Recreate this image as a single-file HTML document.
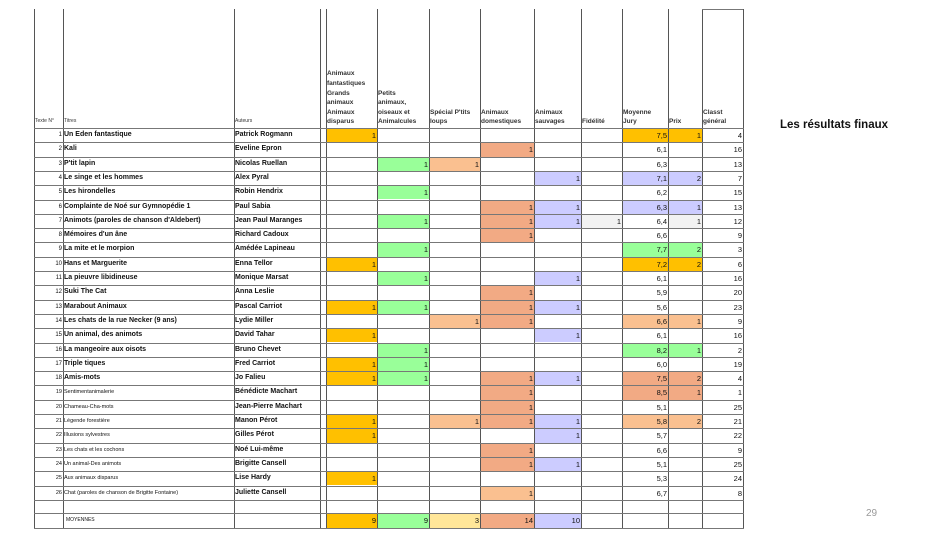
<!DOCTYPE html>
<html><head><meta charset="utf-8"><style>
html,body{margin:0;padding:0;background:#fff;}
#root{position:relative;width:950px;height:534px;overflow:hidden;font-family:"Liberation Sans",sans-serif;color:#111;}
.c{position:absolute;box-sizing:border-box;overflow:hidden;white-space:nowrap;font-size:7px;line-height:14px;}
.v{position:absolute;background:#555;width:1px;}
.h{position:absolute;background:#777;height:1px;}
.hd{position:absolute;font-size:6.5px;font-weight:bold;line-height:9.6px;white-space:pre-line;color:#333;}
</style></head><body>
<div id="root">
<div style="position:absolute;left:780px;top:119px;font-size:11.5px;font-weight:bold;color:#111;">Les résultats finaux</div>
<div style="position:absolute;left:866px;top:508px;font-size:10px;color:#999;">29</div>
</div>
<script>
const titles=["Un Eden fantastique","Kali","P'tit lapin","Le singe et les hommes","Les hirondelles","Complainte de Noé sur Gymnopédie 1","Animots (paroles de chanson d'Aldebert)","Mémoires d'un âne","La mite et le morpion","Hans et Marguerite","La pieuvre libidineuse","Suki The Cat","Marabout Animaux","Les chats de la rue Necker (9 ans)","Un animal, des animots","La mangeoire aux oisots","Triple tiques","Amis-mots","Sentimentanimalerie","Chameau-Cha-mots","Légende forestière","Illusions sylvestres","Les chats et les cochons","Un animal-Des animots","Aux animaux  disparus","Chat (paroles de chanson de Brigitte Fontaine)"];
const authors=["Patrick Rogmann","Eveline Epron","Nicolas Ruellan","Alex Pyral","Robin Hendrix","Paul Sabia","Jean Paul Maranges","Richard Cadoux","Amédée Lapineau","Enna Tellor","Monique Marsat","Anna Leslie","Pascal Carriot","Lydie Miller","David Tahar","Bruno Chevet","Fred Carriot","Jo Falieu","Bénédicte Machart","Jean-Pierre Machart","Manon Pérot","Gilles Pérot","Noé Lui-même","Brigitte Cansell","Lise Hardy","Juliette Cansell"];
const cats=[[1,0,0,0,0,0],[0,0,0,1,0,0],[0,1,1,0,0,0],[0,0,0,0,1,0],[0,1,0,0,0,0],[0,0,0,1,1,0],[0,1,0,1,1,1],[0,0,0,1,0,0],[0,1,0,0,0,0],[1,0,0,0,0,0],[0,1,0,0,1,0],[0,0,0,1,0,0],[1,1,0,1,1,0],[0,0,1,1,0,0],[1,0,0,0,1,0],[0,1,0,0,0,0],[1,1,0,0,0,0],[1,1,0,1,1,0],[0,0,0,1,0,0],[0,0,0,1,0,0],[1,0,1,1,1,0],[1,0,0,0,1,0],[0,0,0,1,0,0],[0,0,0,1,1,0],[1,0,0,0,0,0],[0,0,0,1,0,0]];
const moyennes=["7,5","6,1","6,3","7,1","6,2","6,3","6,4","6,6","7,7","7,2","6,1","5,9","5,6","6,6","6,1","8,2","6,0","7,5","8,5","5,1","5,8","5,7","6,6","5,1","5,3","6,7"];
const prix=["1","","","2","","1","1","","2","2","","","","1","","1","","2","1","","2","","","","",""];
const classt=[4,16,13,7,15,13,12,9,3,6,16,20,23,9,16,2,19,4,1,25,21,22,9,25,24,8];
const prizeColor=[1,0,0,5,0,5,6,0,2,1,0,0,0,3,0,2,0,4,4,0,3,0,0,0,0,0];
const totals=[9,9,3,14,10];
const headers=["Texte N°","Titres","Auteurs","","Animaux\nfantastiques\nGrands\nanimaux\nAnimaux\ndisparus","Petits\nanimaux,\noiseaux et\nAnimalcules","Spécial P'tits\nloups","Animaux\ndomestiques","Animaux\nsauvages","Fidélité","Moyenne\nJury","Prix","Classt\ngénéral"];

const pal=[null,"#FFC000","#99FF99","#FAC090","#F2AA84","#CCCCFF","#F2F2F2"];
const catCol=[1,2,3,4,5,6];
const cols=[34,63,234,320,326,377,429,480,534,581,622,668,702,743];
const top0=128,rh=14.3,hTop=9;
const root=document.getElementById('root');
function box(x,y,w,h,bg,txt,align,fs,bold,name){
  const d=document.createElement('div');d.className='c';
  d.style.left=x+'px';d.style.top=y+'px';d.style.width=w+'px';d.style.height=h+'px';
  if(bg)d.style.background=bg;
  d.style.textAlign=align||'left';d.style.fontSize=(fs||7)+'px';
  d.style.lineHeight=h+'px';d.style.padding='0 1px';
  if(bold)d.style.fontWeight='bold';
  d.textContent=txt;
  
  
  root.appendChild(d);return d;
}
headers.forEach((t,i)=>{
  if(!t)return;
  const d=document.createElement('div');d.className='hd';
  d.style.left=(cols[i]+1)+'px';d.style.width=(cols[i+1]-cols[i]-1)+'px';
  d.style.bottom=(534-top0+1)+'px';
  if(i<3){d.style.fontWeight='normal';d.style.fontSize='5px';}
  d.textContent=t;
  
  
  root.appendChild(d);
});
const yOf=i=>top0+i*rh;
titles.forEach((t,i)=>{
  const y=yOf(i),h=rh;const small=i>=18;
  box(cols[0],y,cols[1]-cols[0],h,null,String(i+1),'right',small?5.5:6,false,'row-number');
  box(cols[1],y,cols[2]-cols[1],h,null,t,'left',small?5.5:7,!small,'row-title');
  box(cols[2],y,cols[3]-cols[2],h,null,authors[i],'left',7,true,'row-author');
  cats[i].forEach((v,j)=>{
    if(v)box(cols[4+j]+1,y+1,cols[5+j]-cols[4+j]-1,h-1,j===3&&i===25?pal[3]:pal[catCol[j]],'1','right',7.5,false,'category-flag');
  });
  const pc=pal[prizeColor[i]];
  box(cols[10]+1,y+1,cols[11]-cols[10]-1,h-1,pc&&prizeColor[i]!==6?pc:null,moyennes[i],'right',7.5,false,'jury-average');
  box(cols[11]+1,y+1,cols[12]-cols[11]-1,h-1,prix[i]?pc:null,prix[i],'right',7.5,false,'prize');
  box(cols[12]+1,y+1,cols[13]-cols[12]-1,h-1,null,String(classt[i]),'right',7.5,false,'overall-rank');
});
const ym=513,hm=15;
box(cols[1],ym,cols[2]-cols[1],hm,null,'MOYENNES','left',5,false,'averages-label').style.paddingLeft='3px';
const totCol=[pal[1],pal[2],"#FFE699",pal[4],pal[5]];
totals.forEach((v,j)=>box(cols[4+j]+1,ym+1,cols[5+j]-cols[4+j]-1,hm-1,totCol[j],String(v),'right',7.5,false,'category-total'));
function line(cls,x,y,w,h){const d=document.createElement('div');d.className=cls;d.style.left=x+'px';d.style.top=y+'px';
 if(w)d.style.width=w+'px';if(h)d.style.height=h+'px';root.appendChild(d);}
const bottom=ym+hm;
cols.forEach(x=>line('v',x,hTop,0,bottom-hTop));
const hs=[];for(let i=0;i<=26;i++)hs.push(yOf(i));hs.push(ym,bottom);
hs.forEach(y=>line('h',cols[0],Math.round(y),cols[13]-cols[0]+1,0));
line('h',cols[12],hTop,cols[13]-cols[12],0);
</script>
</body></html>
